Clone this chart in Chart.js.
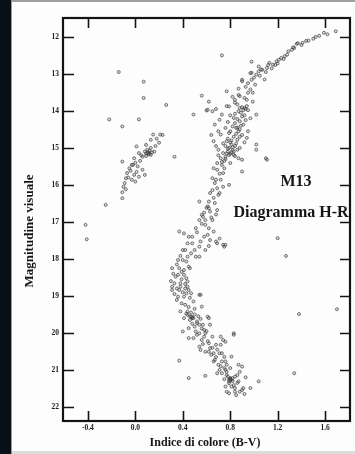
<!DOCTYPE html>
<html>
<head>
<meta charset="utf-8">
<script src="https://cdn.jsdelivr.net/npm/chart.js@4/dist/chart.umd.min.js"></script>
<style>
  html, body { margin: 0; padding: 0; background: #fff; }
  #page {
    position: relative; width: 355px; height: 454px; overflow: hidden;
    background: linear-gradient(to right, #0a1017 0, #0a1017 11px, #9a9a9a 11px, #9a9a9a 12px, #fdfdfd 12px);
  }
  #page::before { content: ''; position: absolute; left: 12px; right: 0; top: 0; height: 2px; background: #a0a0a0; }
  #page::after { content: ''; position: absolute; left: 12px; right: 0; bottom: 0; height: 3px; background: #dcdcdc; }
  #wrap { position: absolute; left: 0; top: 0; width: 355px; height: 454px; }
</style>
</head>
<body>
<div id="page"><div id="wrap"><canvas id="hr"></canvas></div></div>
<script>
// M13 colour-magnitude diagram, [B-V, V]
const xTicks = [-0.4, 0.0, 0.4, 0.8, 1.2, 1.6];
const yTicks = [12, 13, 14, 15, 16, 17, 18, 19, 20, 21, 22];

const giantBranch = [
  [1.69,11.85],[1.62,11.93],[1.59,11.89],[1.55,11.97],[1.52,12.00],[1.50,12.05],[1.46,12.10],[1.44,12.11],[1.41,12.16],
  [1.40,12.22],[1.37,12.17],[1.36,12.19],[1.34,12.30],[1.33,12.28],[1.32,12.35],[1.29,12.39],[1.28,12.48],[1.26,12.52],
  [1.25,12.60],[1.23,12.57],[1.21,12.62],[1.20,12.72],[1.19,12.66],[1.18,12.76],[1.16,12.75],[1.15,12.85],[1.13,12.70],
  [1.12,12.76],[1.11,12.84],[1.10,12.95],[1.07,12.89],[1.06,12.88],[1.05,13.05],[1.04,12.80],[1.04,12.93],[1.02,13.02],
  [1.00,13.10],[0.98,12.97],[0.97,12.98],[1.09,13.15],[1.01,13.29],[0.98,13.16],[0.90,13.16],[0.90,13.20],[0.95,13.25],
  [0.93,13.35],[0.87,13.40],[0.97,13.42],[0.95,13.51],[0.99,13.51],[0.92,13.65],[0.88,13.60],[0.87,13.57],[0.82,13.62],
  [0.94,13.70],[0.99,13.75],[0.84,13.70],[0.77,13.47],[0.77,13.87],[0.79,13.88],[0.84,13.78],[0.86,13.82],[0.92,13.92],
  [0.94,13.87],[0.93,13.95],[0.90,13.90],[0.88,13.92],[0.91,13.98],[0.95,13.98],[0.87,14.01],[0.89,14.05],[0.84,14.08],
  [0.92,14.12],[0.80,14.12],[0.90,14.15],[1.02,14.10],[0.83,14.19],[0.97,14.20],[0.86,14.22],[0.93,14.25],[0.88,14.28],
  [0.78,14.30],[0.84,14.33],[0.91,14.37],[0.89,14.40],[0.82,14.42],[0.86,14.45],[0.85,14.46],[0.76,14.46],[0.88,14.50],
  [0.87,14.55],[0.80,14.55],[0.95,14.55],[0.79,14.60],[0.85,14.62],[0.90,14.65],[0.72,14.64],[0.83,14.70],[0.88,14.70],
  [0.94,14.73],[0.78,14.75],[0.86,14.78],[0.81,14.80],[0.77,14.82],[0.80,14.85],[0.92,14.85],[0.85,14.88],[0.74,14.88],
  [0.81,14.91],[1.02,14.91],[0.76,14.95],[0.84,14.95],[0.82,14.98],[0.79,15.00],[0.88,15.00],[0.78,15.02],[0.86,15.05],
  [0.82,15.06],[0.70,15.05],[1.02,15.05],[0.83,15.10],[0.78,15.10],[0.81,15.12],[0.74,15.14],[0.77,15.15],[0.80,15.16],
  [0.79,15.19],[0.83,15.19],[0.70,15.20],[0.84,15.22],[0.76,15.24],[0.72,15.28],[0.87,15.28],[1.10,15.28],[0.76,15.30],
  [0.90,15.32],[1.11,15.32],[0.75,15.35],[0.73,15.38],[0.69,15.41],[0.80,15.41],[0.73,15.46],[0.66,15.55],[0.75,15.55],
  [0.69,15.59],[0.90,15.64],[0.74,15.68],[0.71,15.70],[0.65,15.82],[0.72,15.86],[0.68,15.86],[0.67,15.95],[0.79,16.00],
  [0.74,16.05],[0.69,16.09],[0.65,16.14],[0.63,16.22],[0.71,16.22],[0.70,16.27],[0.66,16.35],[0.62,16.45],[0.54,16.45],
  [0.67,16.49],[0.61,16.58],[0.60,16.62],[0.62,16.63],[0.69,16.68],[0.63,16.72],[0.58,16.75],[0.68,16.80],[0.56,16.81],
  [0.57,16.86],[0.64,16.88],[0.65,16.95],[0.54,16.95],[0.59,16.95]
];

const asymptoticBranch = [
  [0.65,14.01],[0.67,14.37],[0.66,14.82],[0.73,14.10],[0.71,14.24],[0.61,13.97],[0.62,13.75],[0.68,13.95],
  [0.70,14.55],[0.64,14.65],[0.68,14.95]
];

const horizontalBranch = [
  [0.15,14.64],[0.21,14.64],[0.23,14.65],[0.18,14.75],[0.13,14.78],[0.20,14.86],[0.09,14.92],[0.17,14.95],[0.01,14.96],
  [0.13,15.00],[0.10,15.05],[0.12,15.08],[0.16,15.10],[0.08,15.10],[0.14,15.12],[0.11,15.12],[0.10,15.14],[0.03,15.14],
  [0.09,15.15],[0.12,15.16],[0.11,15.17],[0.13,15.19],[0.05,15.20],[0.09,15.22],[0.06,15.24],[0.33,15.24],[-0.01,15.28],
  [0.04,15.35],[-0.11,15.37],[0.00,15.40],[-0.02,15.46],[-0.03,15.46],[0.02,15.50],[-0.05,15.55],[0.06,15.59],
  [-0.04,15.62],[0.01,15.65],[-0.07,15.68],[-0.01,15.73],[0.08,15.73],[0.03,15.78],[-0.06,15.80],[-0.08,15.82],
  [-0.03,15.86],[0.00,15.91],[-0.09,15.95],[-0.10,16.05],[-0.08,16.12],[-0.11,16.20]
];

const subgiantBranch = [
  [0.62,17.17],[0.66,17.26],[0.63,17.49],[0.69,17.58],[0.74,17.62],[0.59,17.08],[0.56,17.05],[0.51,17.17],[0.52,17.28],
  [0.45,17.40],[0.41,17.31],[0.37,17.26],[0.48,17.40],[0.58,17.40],[0.61,17.35],[0.71,17.45],[0.44,17.58],[0.48,17.58],
  [0.55,17.53],[0.68,17.53],[0.75,17.67],[0.76,17.62],[0.62,17.65],[0.54,17.67],[0.40,17.76],[0.42,17.76],[0.50,17.76],
  [0.59,17.76],[0.47,17.85],[0.38,17.92],[0.44,17.94],[0.51,17.94],[0.54,17.94],[0.36,18.03],[0.40,18.03],[0.43,18.07],
  [0.35,18.15],[0.45,18.21],[0.31,18.25],[0.37,18.25],[0.46,18.25],[0.41,18.30],[0.39,18.35],[0.32,18.40],[0.36,18.43],
  [0.41,18.43],[0.34,18.48],[0.43,18.52],[0.39,18.55],[0.30,18.60],[0.44,18.61],[0.33,18.66],[0.38,18.66],[0.42,18.68]
];

const mainSequence = [
  [0.31,18.75],[0.38,18.75],[0.44,18.75],[0.35,18.80],[0.42,18.80],[0.31,18.84],[0.37,18.84],[0.45,18.84],[0.40,18.90],
  [0.43,18.93],[0.47,18.93],[0.33,18.95],[0.54,18.97],[0.55,18.97],[0.36,19.02],[0.41,19.02],[0.46,19.05],[0.35,19.11],
  [0.49,19.15],[0.39,19.20],[0.42,19.24],[0.56,19.29],[0.45,19.30],[0.50,19.35],[0.38,19.42],[0.44,19.42],[0.47,19.45],
  [0.43,19.48],[0.44,19.51],[0.50,19.50],[0.53,19.55],[0.46,19.55],[0.47,19.56],[0.48,19.58],[0.61,19.56],[0.41,19.60],
  [0.48,19.60],[0.49,19.60],[0.62,19.60],[0.55,19.62],[0.46,19.65],[0.52,19.69],[0.52,19.74],[0.48,19.75],[0.54,19.78],
  [0.57,19.78],[0.63,19.78],[0.50,19.83],[0.45,19.87],[0.56,19.88],[0.58,19.92],[0.60,19.95],[0.40,19.96],[0.51,19.96],
  [0.59,20.01],[0.54,20.01],[0.83,20.01],[0.83,20.05],[0.52,20.05],[0.65,20.10],[0.72,20.10],[0.58,20.10],[0.45,20.14],
  [0.49,20.14],[0.56,20.19],[0.74,20.19],[0.61,20.22],[0.76,20.24],[0.62,20.28],[0.57,20.30],[0.68,20.32],[0.72,20.32],
  [0.54,20.37],[0.65,20.40],[0.63,20.41],[0.69,20.45],[0.55,20.46],[0.59,20.51],[0.62,20.51],[0.66,20.55],[0.71,20.55],
  [0.73,20.55],[0.64,20.59],[0.81,20.64],[0.68,20.65],[0.75,20.65],[0.67,20.73],[0.66,20.77],[0.73,20.77],[0.76,20.77],
  [0.70,20.86],[0.77,20.86],[0.87,20.86],[0.72,20.90],[0.90,20.91],[0.75,20.95],[0.80,20.95],[0.71,21.00],[0.76,21.00],
  [0.77,21.05],[0.88,21.05],[0.69,21.09],[0.73,21.09],[0.77,21.14],[0.86,21.14],[0.78,21.18],[0.84,21.18],[0.93,21.20],
  [0.80,21.22],[0.82,21.22],[0.80,21.24],[0.75,21.25],[0.79,21.26],[0.81,21.27],[0.80,21.28],[0.82,21.30],[0.79,21.31],
  [0.87,21.31],[1.04,21.31],[0.86,21.35],[0.79,21.36],[0.83,21.41],[0.81,21.45],[0.76,21.45],[0.91,21.49],[0.84,21.49],
  [0.97,21.49],[0.90,21.54],[0.88,21.59],[0.84,21.59],[0.77,21.59],[0.79,21.63],[0.92,21.65],[0.85,21.68]
];

const fieldStars = [
  [0.73,12.50],[0.98,12.67],[-0.14,12.95],[0.07,13.21],[0.07,13.65],[0.26,13.84],[0.56,13.59],[0.60,13.99],[-0.22,14.23],
  [-0.11,14.42],[0.03,14.23],[0.49,14.10],[-0.25,16.54],[-0.11,16.36],[-0.42,17.08],[-0.41,17.47],[1.20,17.44],
  [1.27,17.92],[0.37,20.75],[0.45,21.22],[0.59,21.16],[1.38,19.49],[1.70,19.36],[1.34,21.09]
];

const groups = [giantBranch, asymptoticBranch, horizontalBranch, subgiantBranch, mainSequence, fieldStars];

const serif = '"Liberation Serif", "DejaVu Serif", serif';

const framePlugin = {
  id: 'frame',
  afterDatasetsDraw(chart) {
    const { ctx, chartArea: a, scales: { x, y } } = chart;
    ctx.save();
    ctx.strokeStyle = '#141414';
    ctx.lineWidth = 1.6;
    ctx.beginPath();
    xTicks.forEach(v => {
      const px = Math.round(x.getPixelForValue(v)) + 0.5;
      ctx.moveTo(px, a.bottom); ctx.lineTo(px, a.bottom - 10);
      ctx.moveTo(px, a.top); ctx.lineTo(px, a.top + 10);
    });
    yTicks.forEach(v => {
      const py = Math.round(y.getPixelForValue(v)) + 0.5;
      ctx.moveTo(a.left, py); ctx.lineTo(a.left + 11, py);
      ctx.moveTo(a.right, py); ctx.lineTo(a.right - 10, py);
    });
    ctx.stroke();
    ctx.lineWidth = 2.2;
    ctx.strokeRect(a.left, a.top, a.right - a.left, a.bottom - a.top);

    ctx.fillStyle = '#161616';
    ctx.textAlign = 'center';
    ctx.textBaseline = 'middle';
    ctx.font = 'bold 16px ' + serif;
    ctx.fillText('M13', 296, 182);
    ctx.font = 'bold 16px ' + serif;
    ctx.fillText('Diagramma H-R', 291, 213);

    ctx.font = 'bold 12px ' + serif;
    ctx.fillText('Indice di colore (B-V)', 205, 443);
    ctx.translate(30, 231);
    ctx.rotate(-Math.PI / 2);
    ctx.font = 'bold 13px ' + serif;
    ctx.fillText('Magnitudine visuale', 0, 0);
    ctx.restore();
  }
};

new Chart(document.getElementById('hr'), {
  type: 'scatter',
  data: {
    datasets: groups.map(g => ({
      data: g.map(([bv, v]) => ({ x: bv, y: v })),
      pointStyle: 'circle',
      pointRadius: 1.5,
      pointBorderWidth: 1,
      pointBorderColor: 'rgba(45,45,45,0.62)',
      pointBackgroundColor: 'rgba(140,140,140,0.3)'
    }))
  },
  options: {
    responsive: true,
    maintainAspectRatio: false,
    animation: false,
    layout: { padding: { left: 0, top: 18, right: 3, bottom: 0 } },
    plugins: { legend: { display: false }, tooltip: { enabled: false } },
    scales: {
      x: {
        type: 'linear', min: -0.61, max: 1.81,
        grid: { display: false, drawTicks: false },
        border: { display: false },
        afterBuildTicks: s => { s.ticks = xTicks.map(v => ({ value: v })); },
        afterFit: s => { s.height = 33; },
        ticks: {
          padding: 3, color: '#222', maxRotation: 0,
          font: { family: serif, size: 7.5, weight: 'bold' },
          callback: v => v.toFixed(1)
        }
      },
      y: {
        type: 'linear', reverse: true, min: 11.49, max: 22.38,
        grid: { display: false, drawTicks: false },
        border: { display: false },
        afterBuildTicks: s => { s.ticks = yTicks.map(v => ({ value: v })); },
        afterFit: s => { s.width = 63; },
        ticks: {
          padding: 4, color: '#222',
          font: { family: serif, size: 7.5, weight: 'bold' },
          callback: v => String(v)
        }
      }
    }
  },
  plugins: [framePlugin]
});
</script>
</body>
</html>
